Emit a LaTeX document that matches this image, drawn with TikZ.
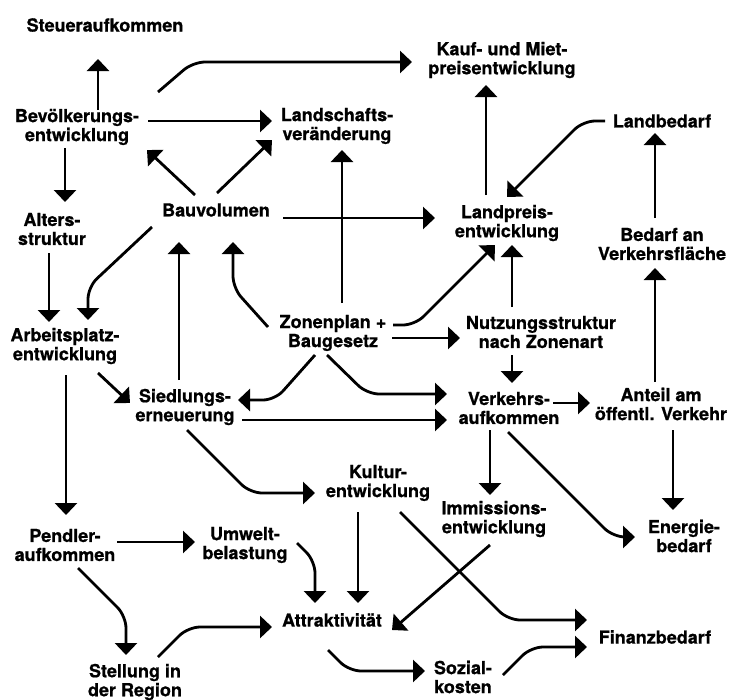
\documentclass[tikz,border=0pt]{standalone}
\usepackage{fontspec}
\setmainfont{TeX Gyre Heros}[BoldFeatures={FakeBold=0.8}]
\usetikzlibrary{arrows.meta,calc}

\begin{document}
\begin{tikzpicture}[x=1pt,y=-1pt,
    box/.style={font=\fontsize{18}{19}\selectfont\bfseries,align=center,inner sep=0pt},
    arr/.style={line width=2.8pt,-{Triangle[length=12pt,width=22pt]},rounded corners=12pt}]
    \useasboundingbox (0,0) rectangle (731,699);
    \node[box] (steuer) at (105,25) {Steueraufkommen};
    \node[box] (kauf) at (502,60) {Kauf- und Miet-\\preisentwicklung};
    \node[box] (bev) at (77,127) {Bevölkerungs-\\entwicklung};
    \node[box] (land) at (337,126) {Landschafts-\\veränderung};
    \node[box] (landbed) at (662,121) {Landbedarf};
    \node[box] (alters) at (52,229) {Alters-\\struktur};
    \node[box] (bau) at (216,210) {Bauvolumen};
    \node[box] (landpreis) at (507,223) {Landpreis-\\entwicklung};
    \node[box] (bedarf) at (662,244) {Bedarf an\\Verkehrsfläche};
    \node[box] (arbeit) at (65,346) {Arbeitsplatz-\\entwicklung};
    \node[box] (zonen) at (333,333) {Zonenplan +\\Baugesetz};
    \node[box] (nutzung) at (541,332) {Nutzungsstruktur\\nach Zonenart};
    \node[box] (siedl) at (185,407) {Siedlungs-\\erneuerung};
    \node[box] (verkehr) at (509,408) {Verkehrs-\\aufkommen};
    \node[box] (anteil) at (661,404) {Anteil am\\öffentl. Verkehr};
    \node[box] (kultur) at (378,483) {Kultur-\\entwicklung};
    \node[box] (immis) at (494,519) {Immissions-\\entwicklung};
    \node[box] (energie) at (684,536) {Energie-\\bedarf};
    \node[box] (pendler) at (65,545) {Pendler-\\aufkommen};
    \node[box] (umwelt) at (245,545) {Umwelt-\\belastung};
    \node[box] (attrakt) at (332,620) {Attraktivität};
    \node[box] (finanz) at (655,637) {Finanzbedarf};
    \node[box] (stellung) at (135,682) {Stellung in\\der Region};
    \node[box] (sozial) at (463,677) {Sozial-\\kosten};

    \draw[arr] ($(bev)+(21,-17)$) -- ($(steuer)+(-7,34)$);
    \draw[arr] ($(bev)+(81,-35)$) -- ++(35,-30) -- ($(kauf)+(-90,2)$);
    \draw[arr] ($(bev)+(71,-6)$) -- ($(land)+(-65,-5)$);
    \draw[arr] ($(bev)+(-12,21)$) -- ($(alters)+(13,-27)$);
    \draw[arr] ($(bau)+(-21,-15)$) -- ($(bev)+(70,23)$);
    \draw[arr] ($(bau)+(1,-17)$) -- ($(land)+(-65,14)$);
    \draw[arr] ($(zonen)+(9,-30)$) -- ($(land)+(5,24)$);
    \draw[arr] ($(bau)+(67,8)$) -- ($(landpreis)+(-72,-5)$);
    \draw[arr] ($(landpreis)+(-21,-28)$) -- ($(kauf)+(-16,25)$);
    \draw[arr] ($(landbed)+(-57,0)$) -- ++(-22,0) -- ($(landpreis)+(0,-26)$);
    \draw[arr] ($(bedarf)+(-7,-26)$) -- ($(landbed)+(-7,12)$);
    \draw[arr] ($(alters)+(-3,24)$) -- ($(arbeit)+(-16,-24)$);
    \draw[arr] ($(bau)+(-64,17)$) -- ++(-64,60) -- ($(arbeit)+(23,-26)$);
    \draw[arr] ($(siedl)+(-6,-27)$) -- ($(bau)+(-37,32)$);
    \draw[arr] ($(zonen)+(-65,-6)$) -- ++(-35,-39) -- ($(bau)+(17,32)$);
    \draw[arr] ($(arbeit)+(33,27)$) -- ($(siedl)+(-55,-4)$);
    \draw[arr] ($(zonen)+(-18,22)$) -- ++(-40,45) -- ($(siedl)+(53,-7)$);
    \draw[arr] ($(zonen)+(-6,22)$) -- ++(40,39) -- ($(verkehr)+(-62,-14)$);
    \draw[arr] ($(siedl)+(57,13)$) -- ($(verkehr)+(-62,12)$);
    \draw[arr] ($(siedl)+(2,23)$) -- ++(63,63) -- ($(kultur)+(-63,10)$);
    \draw[arr] ($(arbeit)+(1,29)$) -- ($(pendler)+(1,-30)$);
    \draw[arr] ($(zonen)+(60,-8)$) -- ++(22,0) -- ($(landpreis)+(-12,22)$);
    \draw[arr] ($(nutzung)+(-29,-25)$) -- ($(landpreis)+(5,22)$);
    \draw[arr] ($(zonen)+(59,5)$) -- ($(nutzung)+(-81,6)$);
    \draw[arr] ($(nutzung)+(-29,23)$) -- ($(verkehr)+(3,-25)$);
    \draw[arr] ($(verkehr)+(44,-5)$) -- ($(anteil)+(-71,-1)$);
    \draw[arr] ($(anteil)+(-6,-22)$) -- ($(bedarf)+(-7,24)$);
    \draw[arr] ($(anteil)+(12,26)$) -- ($(energie)+(-11,-26)$);
    \draw[arr] ($(verkehr)+(-19,22)$) -- ($(immis)+(-4,-24)$);
    \draw[arr] ($(verkehr)+(-1,24)$) -- ++(105,105) -- ($(energie)+(-49,1)$);
    \draw[arr] ($(pendler)+(52,-3)$) -- ($(umwelt)+(-50,-3)$);
    \draw[arr] ($(umwelt)+(52,-2)$) -- ++(18,18) -- ($(attrakt)+(-17,-17)$);
    \draw[arr] ($(kultur)+(-20,29)$) -- ($(attrakt)+(26,-17)$);
    \draw[arr] ($(pendler)+(13,23)$) -- ++(48,48) -- ($(stellung)+(-9,-27)$);
    \draw[arr] ($(stellung)+(23,-25)$) -- ++(30,-30) -- ($(attrakt)+(-60,7)$);
    \draw[arr] ($(attrakt)+(-4,30)$) -- ++(21,21) -- ($(sozial)+(-38,-6)$);
    \draw[arr] ($(immis)+(-4,26)$) -- ($(attrakt)+(60,10)$);
    \draw[arr] ($(kultur)+(22,29)$) -- ++(108,108) -- ($(finanz)+(-68,-17)$);
    \draw[arr] ($(sozial)+(40,-2)$) -- ++(28,-28) -- ($(finanz)+(-68,10)$);
\end{tikzpicture}
\end{document}
